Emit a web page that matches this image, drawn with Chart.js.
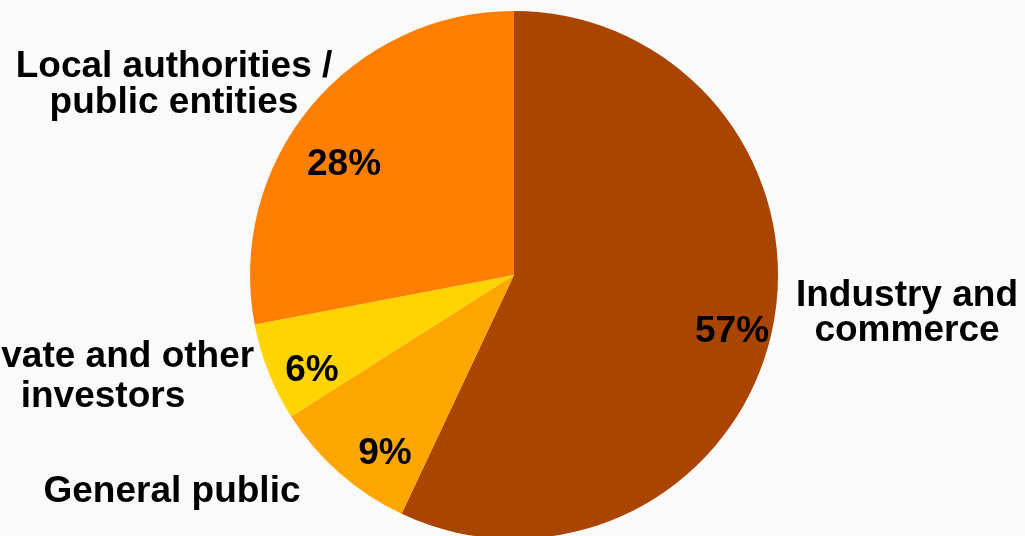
<!DOCTYPE html>
<html>
<head>
<meta charset="utf-8">
<script src="https://cdn.jsdelivr.net/npm/chart.js@4.4.1/dist/chart.umd.min.js"></script>
<style>
  html, body { margin: 0; padding: 0; background: #fafafa; overflow: hidden; }
  #grafico { display: block; }
</style>
</head>
<body>
<canvas id="grafico" width="1025" height="550"></canvas>
<script>
const categorias = ["Industry and commerce", "General public", "Private and other investors", "Local authorities / public entities"];
const valores = [57, 9, 6, 28];
const cores = ["#aa4500", "#ffa600", "#ffd400", "#ff7f00"];

// category labels split on lines, as in the picture
const rotulos = [
  ["Industry and", "commerce"],
  ["General public"],
  ["Private and other", "investors"],
  ["Local authorities /", "public entities"],
];
// where each label sits, relative to pie centre (px) and line height
const posRotulo = [
  { dx: 393, dy: 31, lh: 35 },
  { dx: -342, dy: 227, lh: 36 },
  { dx: -411, dy: 92, lh: 40 },
  { dx: -340, dy: -198, lh: 36 },
];
// percent labels (baseline), relative to pie centre
const posPct = [
  { dx: 218, dy: 67 },
  { dx: -129, dy: 189 },
  { dx: -202, dy: 106 },
  { dx: -170, dy: -100 },
];

const fonte = "bold 37px 'Liberation Sans', Arial, sans-serif";

const rotulosPlugin = {
  id: "rotulos",
  afterDatasetsDraw(chart) {
    const ctx = chart.ctx;
    const meta = chart.getDatasetMeta(0);
    const total = valores.reduce((a, b) => a + b, 0);
    ctx.save();
    ctx.font = fonte;
    ctx.fillStyle = "#000";
    ctx.textAlign = "center";
    ctx.textBaseline = "alphabetic";
    meta.data.forEach((arc, i) => {
      const p = arc.getProps(["x", "y"], true);
      const pct = Math.round((valores[i] / total) * 100) + "%";
      ctx.fillText(pct, p.x + posPct[i].dx, p.y + posPct[i].dy);

      const pos = posRotulo[i];
      rotulos[i].forEach((linha, k) => {
        ctx.fillText(linha, p.x + pos.dx, p.y + pos.dy + k * pos.lh);
      });
    });
    ctx.restore();
  },
};

new Chart(document.getElementById("grafico"), {
  type: "pie",
  data: {
    labels: categorias,
    datasets: [
      {
        data: valores,
        backgroundColor: cores,
        borderWidth: 0,
      },
    ],
  },
  options: {
    responsive: false,
    animation: false,
    layout: { padding: { left: 250, right: 247, top: 11, bottom: 11 } },
    plugins: {
      legend: { display: false },
      tooltip: { enabled: false },
    },
  },
  plugins: [rotulosPlugin],
});
</script>
</body>
</html>
